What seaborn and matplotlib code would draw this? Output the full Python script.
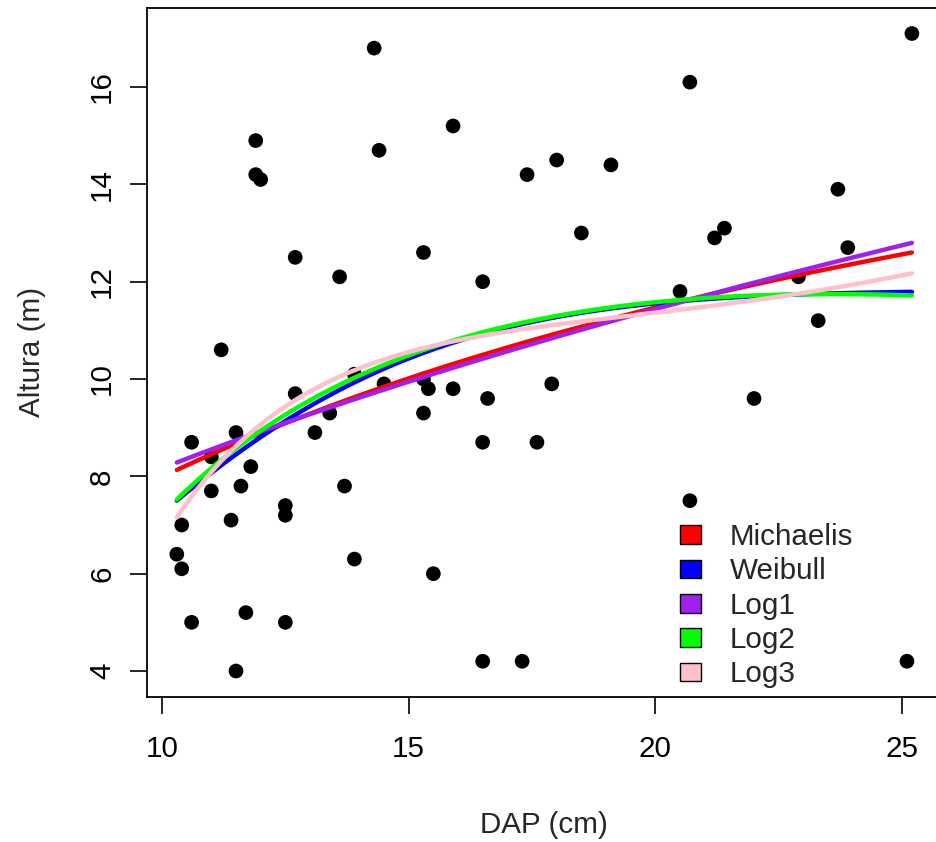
import numpy as np
import pandas as pd
import matplotlib
matplotlib.use("Agg")
import matplotlib.pyplot as plt
from matplotlib.patches import Patch
import seaborn as sns

# Diameter at breast height (cm) and total height (m) of the sampled trees
dap = [14.3, 11.9, 14.4, 11.9, 12.0, 12.7, 13.6, 11.2,
       12.7, 13.9, 14.5, 13.4, 13.1, 11.5, 10.6, 11.0, 11.8, 11.0, 11.6, 13.7,
       12.5, 12.5, 11.4, 10.4, 10.3, 10.4, 13.9, 11.7, 10.6, 12.5, 11.5,
       15.9, 17.4, 18.0, 19.1, 18.5, 15.3, 16.5,
       15.3, 15.4, 15.9, 16.6, 17.9, 15.3, 16.5, 17.6, 15.5, 16.5, 17.3,
       25.2, 20.7, 23.7, 21.4, 21.2, 23.9, 22.9, 20.5, 23.3, 22.0, 20.7, 25.1]
altura = [16.8, 14.9, 14.7, 14.2, 14.1, 12.5, 12.1, 10.6,
          9.7, 10.1, 9.9, 9.3, 8.9, 8.9, 8.7, 8.4, 8.2, 7.7, 7.8, 7.8,
          7.4, 7.2, 7.1, 7.0, 6.4, 6.1, 6.3, 5.2, 5.0, 5.0, 4.0,
          15.2, 14.2, 14.5, 14.4, 13.0, 12.6, 12.0,
          10.0, 9.8, 9.8, 9.6, 9.9, 9.3, 8.7, 8.7, 6.0, 4.2, 4.2,
          17.1, 16.1, 13.9, 13.1, 12.9, 12.7, 12.1, 11.8, 11.2, 9.6, 7.5, 4.2]

# Hypsometric models and their fitted coefficients
model_names = ["Michaelis", "Weibull", "Log1", "Log2", "Log3"]
model_colors = ["#FF0000", "#0000FF", "#A020F0", "#00FF00", "#FFC0CB"]
michaelis_coef = [20.32, 15.44]                     # a*D / (b + D)
weibull_coef = [11.82, 0.00949, 2.0]                # a*(1 - exp(-b*D^c))
log1_coef = [0.981, 0.486]                          # exp(a + b*ln D)
log2_coef = [-49.75, 38.92, -6.158]                 # a + b*ln D + c*ln(D)^2
log3_coef = [-300.087, 313.136, -105.742, 11.990]   # cubic in ln D


def predict(name, d):
    ld = np.log(d)
    if name == "Michaelis":
        a, b = michaelis_coef
        return a * d / (b + d)
    if name == "Weibull":
        a, b, c = weibull_coef
        return a * (1 - np.exp(-b * d ** c))
    if name == "Log1":
        a, b = log1_coef
        return np.exp(a + b * ld)
    if name == "Log2":
        a, b, c = log2_coef
        return a + b * ld + c * ld ** 2
    a, b, c, e = log3_coef
    return a + b * ld + c * ld ** 2 + e * ld ** 3


trees = pd.DataFrame({"DAP": dap, "Altura": altura})
grid = np.linspace(min(dap), max(dap), 300)
curves = pd.concat(
    [pd.DataFrame({"DAP": grid, "Altura": predict(m, grid), "Modelo": m}) for m in model_names],
    ignore_index=True,
)

sns.set_style("white")
plt.rcParams["font.family"] = ["Liberation Sans", "DejaVu Sans"]
FS = 21.3

fig = plt.figure(figsize=(9.37, 8.42), dpi=100)
ax = fig.add_axes([0.1573, 0.1728, 0.8473, 0.8177])

sns.scatterplot(data=trees, x="DAP", y="Altura", color="black", s=112,
                edgecolor="none", ax=ax, zorder=2)
sns.lineplot(data=curves, x="DAP", y="Altura", hue="Modelo", hue_order=model_names,
             palette=dict(zip(model_names, model_colors)), linewidth=3.2,
             sort=False, legend=False, ax=ax, zorder=3)

x0, x1 = min(dap), max(dap)
y0, y1 = min(altura), max(altura)
ax.set_xlim(x0 - 0.04 * (x1 - x0), x1 + 0.04 * (x1 - x0))
ax.set_ylim(y0 - 0.04 * (y1 - y0), y1 + 0.04 * (y1 - y0))
ax.set_xticks([10, 15, 20, 25])
ax.set_yticks([4, 6, 8, 10, 12, 14, 16])

for s in ax.spines.values():
    s.set_color("black")
    s.set_linewidth(1.3)
ax.tick_params(axis="both", which="major", direction="out", length=12.5, width=1.2,
               color="black", labelsize=FS, labelcolor="black", bottom=True, left=True)
ax.tick_params(axis="x", pad=15.5)
ax.tick_params(axis="y", pad=10, labelrotation=90)
for lab in ax.get_yticklabels():
    lab.set_va("center")

ax.set_xlabel("DAP (cm)", fontsize=FS, labelpad=34)
ax.set_ylabel("Altura (m)", fontsize=FS, labelpad=30)

handles = [Patch(facecolor=c, edgecolor="black", linewidth=1.0) for c in model_colors]
ax.legend(handles, model_names, loc="upper left", bbox_to_anchor=(680 / 937, 1 - 523 / 842),
          bbox_transform=fig.transFigure, frameon=False, fontsize=FS,
          handlelength=0.72, handleheight=0.6, handletextpad=0.95,
          labelspacing=0.215, borderpad=0, borderaxespad=0)

fig.savefig("out.png", dpi=100)
